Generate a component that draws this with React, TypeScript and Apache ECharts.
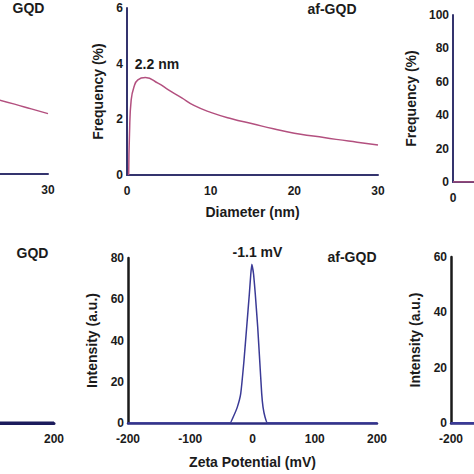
import React, { useEffect, useRef } from "react";
import * as echarts from "echarts";

const FONT = "'Liberation Sans', Arial, sans-serif";
const TEXT = "#1b1b1b";
const MAGENTA = "#b3507f";
const NAVY = "#3a3a96";
const AXIS_NAVY = "#34346e";
const AXIS_BLACK = "#1a1a1a";

// ---- Size distribution: Diameter (nm) vs Frequency (%) ----
const sizeXTicks = { min: 0, max: 30, interval: 10 };
const sizeYTicksAf = { min: 0, max: 6, interval: 2 };
const sizeYTicksRight = { min: 0, max: 100, interval: 20 };

// GQD (only its tail is visible at the left edge)
const gqdSizeTail: [number, number][] = [
  [24, 2.67], [26, 2.51], [28, 2.34], [30, 2.17],
];
// af-GQD
const afSize: [number, number][] = [
  [0.2, 0], [0.3, 1.5], [0.5, 2.7], [0.85, 3.18], [1.3, 3.42], [2.2, 3.5],
  [3.7, 3.3], [5, 3.05], [6.5, 2.78], [8, 2.5], [10, 2.25], [12.5, 2.02],
  [15, 1.84], [17.5, 1.66], [20, 1.5], [22.5, 1.39], [25, 1.28],
  [27.5, 1.18], [30, 1.08],
];
// right panel (only its start is visible)
const rightSize: [number, number][] = [[0, 0], [3, 0]];

// ---- Zeta potential (mV) vs Intensity (a.u.) ----
const zetaXTicks = { min: -200, max: 200, interval: 100 };
const zetaYTicksAf = { min: 0, max: 80, interval: 20 };
const zetaYTicksRight = { min: 0, max: 60, interval: 20 };

const gqdZetaTail: [number, number][] = [[100, 0], [200, 0]];
const afZeta: [number, number][] = [
  [-200, 0], [-36, 0], [-31, 2.9], [-24.4, 7.7], [-19, 14.1], [-13.7, 30.2],
  [-9.4, 46.3], [-5.1, 62.4], [-2.8, 72], [-1.1, 77], [1.8, 72], [4.5, 62.4],
  [8.4, 46.3], [11.6, 30.2], [14.8, 14.1], [16.9, 7.7], [20.1, 2.9],
  [24, 0], [200, 0],
];
const rightZeta: [number, number][] = [[-200, 0], [-150, 0]];

// tick labels visible inside the cropped side panels
const leftSizeXLabels = [30];
const rightSizeXLabels = [0];
const leftZetaXLabels = [200];
const rightZetaXLabels = [-200];

const labelFont = { fontFamily: FONT, fontWeight: "bold" as const, fontSize: 12, color: TEXT };
const nameFont = { fontFamily: FONT, fontWeight: "bold" as const, fontSize: 14, color: TEXT };

function xAxis(gridIndex: number, ticks: any, lineColor: string, lineWidth: number, name?: string, nameGap?: number, customValues?: number[]) {
  const axisLabel: any = { ...labelFont, margin: 10, showMinLabel: true, showMaxLabel: true, hideOverlap: false };
  if (customValues) axisLabel.customValues = customValues;
  return {
    type: "value",
    gridIndex,
    min: ticks.min,
    max: ticks.max,
    interval: ticks.interval,
    name: name || "",
    nameLocation: "middle",
    nameGap: nameGap || 30,
    nameTextStyle: nameFont,
    axisLine: { show: true, onZero: false, lineStyle: { color: lineColor, width: lineWidth } },
    axisTick: { show: false },
    splitLine: { show: false },
    axisLabel,
  };
}

function yAxis(gridIndex: number, ticks: any, lineColor: string, lineWidth: number, show: boolean, name?: string, nameGap?: number) {
  return {
    type: "value",
    gridIndex,
    show,
    min: ticks.min,
    max: ticks.max,
    interval: ticks.interval,
    name: name || "",
    nameLocation: "middle",
    nameGap: nameGap || 20,
    nameRotate: 90,
    nameTextStyle: nameFont,
    axisLine: { show: true, onZero: false, lineStyle: { color: lineColor, width: lineWidth } },
    axisTick: { show: false },
    splitLine: { show: false },
    axisLabel: { ...labelFont, margin: 4, showMinLabel: true, showMaxLabel: true },
  };
}

function txt(text: string, x: number, y: number) {
  return {
    type: "text",
    x,
    y,
    style: {
      text,
      fill: TEXT,
      font: `bold 14px ${FONT}`,
      textAlign: "center",
      textVerticalAlign: "middle",
      align: "center",
      verticalAlign: "middle",
    },
  };
}

function lineSeries(i: number, data: [number, number][], color: string, width: number, smooth: number | boolean) {
  return {
    type: "line",
    xAxisIndex: i,
    yAxisIndex: i,
    data,
    smooth,
    showSymbol: false,
    symbol: "none",
    lineStyle: { color, width },
    itemStyle: { color },
  };
}

function grid(left: number, top: number, width: number, height: number) {
  return { left, top, width, height, containLabel: false, outerBoundsMode: "none" };
}

export default function App() {
  const ref = useRef<HTMLDivElement>(null);
  useEffect(() => {
    if (!ref.current) return;
    const chart = echarts.init(ref.current, undefined, { renderer: "svg" });
    chart.setOption({
      animation: false,
      backgroundColor: "#ffffff",
      grid: [
        grid(-203, 7, 251, 167),
        grid(127, 8, 251, 167),
        grid(453, 15, 251, 167),
        grid(-195, 257, 249, 166),
        grid(128, 258, 249, 165),
        grid(451, 257, 249, 166),
      ],
      xAxis: [
        xAxis(0, sizeXTicks, AXIS_NAVY, 2, "", 30, leftSizeXLabels),
        xAxis(1, sizeXTicks, AXIS_NAVY, 2, "Diameter (nm)", 30),
        xAxis(2, sizeXTicks, AXIS_NAVY, 2, "", 30, rightSizeXLabels),
        xAxis(3, zetaXTicks, "#1c1c5c", 3, "", 30, leftZetaXLabels),
        xAxis(4, zetaXTicks, "#2c2c80", 2.5, "Zeta Potential (mV)", 32),
        xAxis(5, zetaXTicks, "#2c2c80", 2.5, "", 30, rightZetaXLabels),
      ],
      yAxis: [
        yAxis(0, sizeYTicksAf, AXIS_NAVY, 2, false),
        yAxis(1, sizeYTicksAf, AXIS_NAVY, 2, true, "Frequency (%)", 21),
        yAxis(2, sizeYTicksRight, AXIS_NAVY, 2, true, "Frequency (%)", 30),
        yAxis(3, zetaYTicksAf, AXIS_BLACK, 2.5, false),
        yAxis(4, zetaYTicksAf, AXIS_BLACK, 2.5, true, "Intensity (a.u.)", 29),
        yAxis(5, zetaYTicksRight, AXIS_BLACK, 2.5, true, "Intensity (a.u.)", 29),
      ],
      series: [
        lineSeries(0, gqdSizeTail, MAGENTA, 1.5, true),
        lineSeries(1, afSize, MAGENTA, 1.5, true),
        lineSeries(2, rightSize, MAGENTA, 1.5, false),
        lineSeries(3, gqdZetaTail, "#1c1c5c", 3, false),
        lineSeries(4, afZeta, NAVY, 1.5, 0.1),
        lineSeries(5, rightZeta, NAVY, 2, false),
      ],
      graphic: [
        txt("GQD", 28.5, 7.5),
        txt("af-GQD", 332, 9),
        txt("2.2 nm", 157, 64),
        txt("GQD", 32.5, 252.5),
        txt("-1.1 mV", 257.5, 252),
        txt("af-GQD", 352, 257),
      ],
    });
    return () => chart.dispose();
  }, []);
  return (
    <div
      ref={ref}
      style={{ position: "fixed", left: 0, top: 0, width: 474, height: 474, background: "#fff" }}
    />
  );
}
